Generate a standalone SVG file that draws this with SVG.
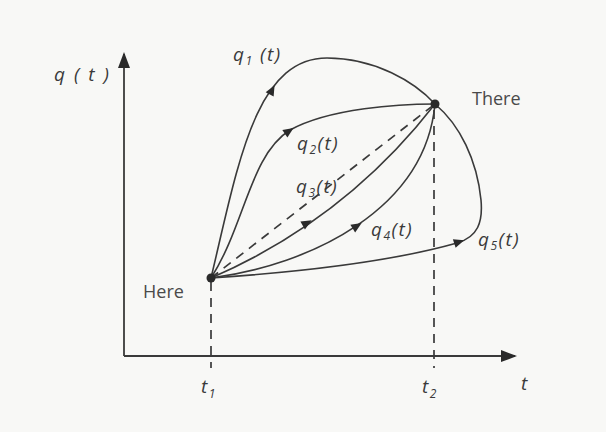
<svg xmlns="http://www.w3.org/2000/svg" width="606" height="432" viewBox="0 0 606 432">
<style>
.ln{fill:none;stroke:#3a3a3a;stroke-width:1.6}
.ax{fill:none;stroke:#3a3a3a;stroke-width:1.8}
.dash{fill:none;stroke:#3a3a3a;stroke-width:1.7;stroke-dasharray:9,7}
.lbl{font-family:"Open Sans","DejaVu Sans",sans-serif;font-style:italic;font-size:19px;fill:#3a3a3a;letter-spacing:1.5px}
.sub{font-size:12px}
.nm{font-family:"Open Sans","DejaVu Sans",sans-serif;font-size:18px;fill:#4a4a4a}
.ah{fill:#2a2a2a}
</style>
<defs>
<path id="tri" d="M5.5,0 L-5,-4.5 L-5,4.5 Z"/>
<marker id="axarr" markerWidth="16" markerHeight="12" refX="14" refY="6" orient="auto" markerUnits="userSpaceOnUse">
<path d="M0,0 L16,6 L0,12 Z" fill="#2a2a2a"/>
</marker>
</defs>
<rect width="606" height="432" fill="#f8f8f6"/>
<g id="axes">
<path class="ax" d="M124,356 L124,54" marker-end="url(#axarr)"/>
<path class="ax" d="M124,356 L515,356" marker-end="url(#axarr)"/>
<text class="lbl" x="54" y="81" style="letter-spacing:2px">q ( t )</text>
<text class="lbl" x="521" y="390">t</text>
</g>
<g id="connectors">
<path class="dash" d="M211,282 L211,368"/>
<path class="dash" d="M434,110 L434,368"/>
<path class="dash" d="M211,278 L435,104"/>
<path id="q1" class="ln" d="M211,278 C 238,165 255,58 327,58 C 375,58 415,82 435,104"/>
<path id="q2" class="ln" d="M211,278 C 245,225 250,155 290,130 C 330,108 400,104 435,104"/>
<path id="q3" class="ln" d="M211,278 Q 345,220 435,104"/>
<path id="q4" class="ln" d="M211,278 C 310,265 425,210 435,104"/>
<path id="q5" class="ln" d="M211,278 C 300,272 390,262 457,243 C 478,237 483,222 481,200 C 477,160 460,125 435,104"/>
<use href="#tri" class="ah" transform="translate(272,90) rotate(-62)"/>
<use href="#tri" class="ah" transform="translate(289,131) rotate(-34)"/>
<use href="#tri" class="ah" transform="translate(307,223) rotate(-30)"/>
<use href="#tri" class="ah" transform="translate(357,226) rotate(-32)"/>
<use href="#tri" class="ah" transform="translate(459,242) rotate(-18)"/>
</g>
<g id="here">
<circle cx="211" cy="278" r="4.5" fill="#2a2a2a"/>
<text class="nm" x="143" y="298">Here</text>
<text class="lbl" x="201" y="393">t<tspan class="sub" dy="5">1</tspan></text>
</g>
<g id="there">
<circle cx="435" cy="104" r="4.5" fill="#2a2a2a"/>
<text class="nm" x="472" y="105" font-size="19">There</text>
<text class="lbl" x="422" y="393">t<tspan class="sub" dy="5">2</tspan></text>
</g>
<g id="labels">
<text class="lbl" x="233" y="61">q<tspan class="sub" dy="4">1</tspan><tspan dy="-4"> (t)</tspan></text>
<text class="lbl" x="297" y="150">q<tspan class="sub" dy="4">2</tspan><tspan dy="-4">(t)</tspan></text>
<text class="lbl" x="296" y="193">q<tspan class="sub" dy="4">3</tspan><tspan dy="-4">(t)</tspan></text>
<text class="lbl" x="371" y="236">q<tspan class="sub" dy="4">4</tspan><tspan dy="-4">(t)</tspan></text>
<text class="lbl" x="478" y="246">q<tspan class="sub" dy="4">5</tspan><tspan dy="-4">(t)</tspan></text>
</g>
</svg>
